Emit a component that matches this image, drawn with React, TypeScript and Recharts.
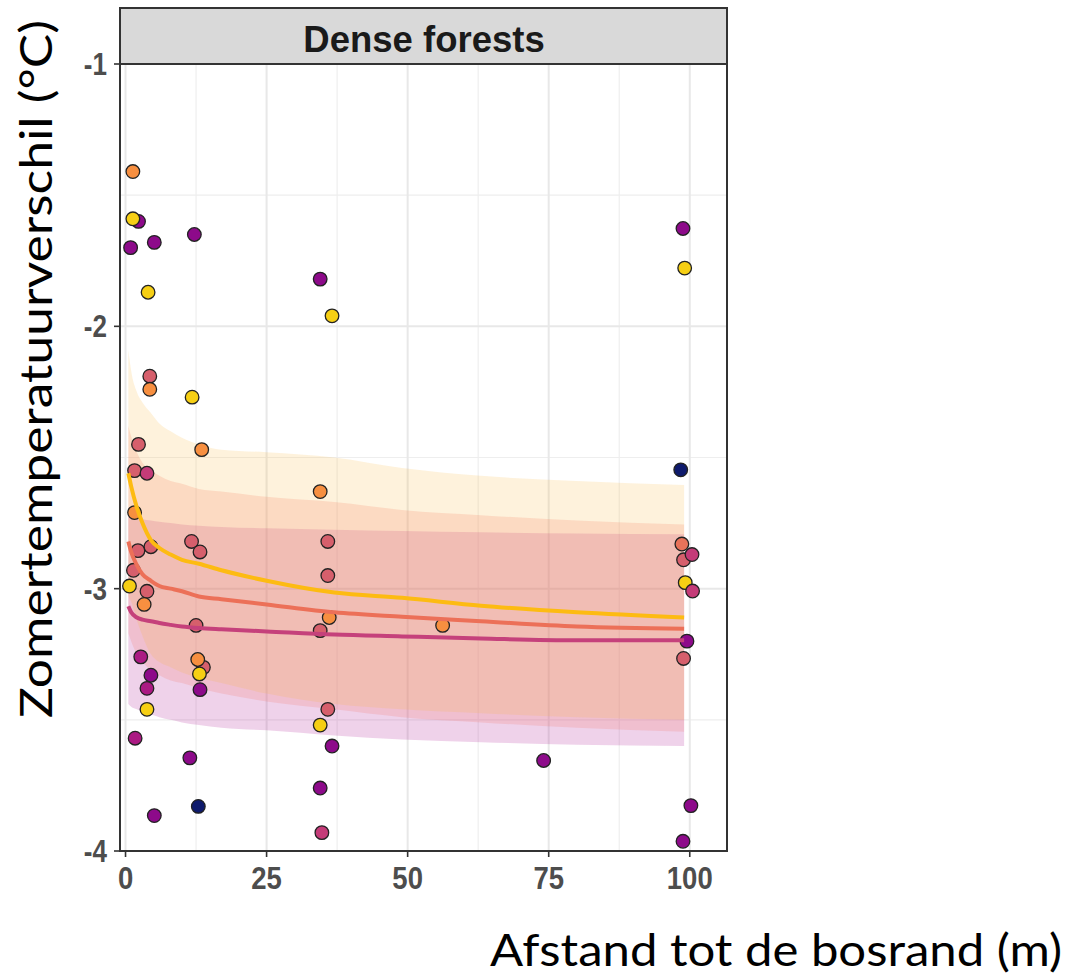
import React from "react";
import { ComposedChart, Area, Line, Scatter, XAxis, YAxis, ReferenceLine } from "recharts";

const W = 1074;
const H = 979;

// axis ticks and grid values
const xTicks = [0, 25, 50, 75, 100];
const yTicks = [-4, -3, -2, -1];
const xMinor = [12.5, 37.5, 62.5, 87.5];
const yMinor = [-3.5, -2.5, -1.5];
const X_DOMAIN: [number, number] = [-0.98, 106.6];
const Y_DOMAIN: [number, number] = [-4, -1];

// fitted curves
const fitX = [0.5, 1, 2, 3, 4.5, 6, 8, 10, 13, 17, 25, 37, 49, 63, 80, 99];
const fitYellow = [-2.56, -2.61, -2.69, -2.75, -2.815, -2.845, -2.87, -2.89, -2.905, -2.93, -2.97, -3.015, -3.035, -3.065, -3.09, -3.11];
const fitSalmon = [-2.82, -2.86, -2.91, -2.945, -2.97, -2.99, -3.0, -3.01, -3.03, -3.04, -3.06, -3.09, -3.107, -3.124, -3.144, -3.153];
const fitMagenta = [-3.067, -3.09, -3.11, -3.118, -3.124, -3.131, -3.138, -3.144, -3.15, -3.155, -3.163, -3.175, -3.182, -3.19, -3.197, -3.197];

// confidence ribbons
const yellowHi = [-2.09, -2.17, -2.25, -2.29, -2.33, -2.37, -2.40, -2.425, -2.45, -2.47, -2.48, -2.50, -2.54, -2.57, -2.59, -2.605];
const yellowLo = [-3.03, -3.05, -3.12, -3.18, -3.25, -3.28, -3.30, -3.32, -3.34, -3.36, -3.40, -3.44, -3.46, -3.475, -3.49, -3.50];
const salmonHi = [-2.38, -2.42, -2.48, -2.52, -2.55, -2.57, -2.59, -2.60, -2.62, -2.63, -2.65, -2.67, -2.70, -2.72, -2.74, -2.755];
const salmonLo = [-3.17, -3.20, -3.25, -3.28, -3.31, -3.33, -3.35, -3.36, -3.38, -3.40, -3.43, -3.46, -3.49, -3.51, -3.53, -3.545];
const magentaHi = [-2.72, -2.725, -2.73, -2.735, -2.74, -2.745, -2.75, -2.755, -2.76, -2.765, -2.77, -2.775, -2.78, -2.785, -2.79, -2.793];
const magentaLo = [-3.44, -3.45, -3.46, -3.47, -3.48, -3.49, -3.50, -3.51, -3.52, -3.53, -3.54, -3.56, -3.575, -3.585, -3.595, -3.60];

// observed points
const ptX = [1.3, 2.3, 1.3, 0.9, 5.1, 12.2, 4.0, 4.3, 4.3, 11.8, 2.3, 13.5, 1.6, 3.8, 1.6, 11.7, 13.2, 2.2, 4.5, 1.4, 0.7, 3.8, 3.3, 12.5, 2.7, 13.8, 12.8, 13.1, 4.5, 3.8, 13.2, 3.8, 1.7, 11.4, 12.9, 5.1,
  34.5, 36.6, 34.5, 35.85, 35.85, 34.5, 36.1, 56.2, 35.85, 34.5, 36.6, 34.5, 34.8, 74.1,
  98.8, 99.1, 98.4, 98.6, 98.9, 100.4, 99.2, 100.5, 99.5, 98.9, 100.2, 98.8];
const ptY = [-1.41, -1.60, -1.59, -1.70, -1.68, -1.65, -1.87, -2.19, -2.24, -2.27, -2.45, -2.47, -2.55, -2.56, -2.71, -2.82, -2.86, -2.855, -2.84, -2.93, -2.99, -3.01, -3.06, -3.14, -3.26, -3.30, -3.27, -3.325, -3.33, -3.38, -3.385, -3.46, -3.57, -3.645, -3.83, -3.865,
  -1.82, -1.96, -2.63, -2.82, -2.95, -3.16, -3.11, -3.14, -3.46, -3.52, -3.60, -3.76, -3.93, -3.655,
  -1.627, -1.778, -2.547, -2.83, -2.89, -2.87, -2.977, -3.009, -3.20, -3.266, -3.827, -3.963];
const ptGroup = ["orange", "purple", "yellow", "purple", "purple", "purple", "yellow", "pinkred", "orange", "yellow", "pinkred", "orange", "pinkred", "rose", "orange", "pinkred", "pinkred", "pinkred", "pinkred", "pinkred", "yellow", "pinkred", "orange", "pinkred", "magenta", "pinkred", "orange", "yellow", "purple", "magenta", "purple", "yellow", "magenta", "purple", "navy", "purple",
  "purple", "yellow", "orange", "pinkred", "pinkred", "pinkred", "orange", "orange", "pinkred", "yellow", "purple", "purple", "rose", "purple",
  "purple", "yellow", "navy", "salmon", "pinkred", "rose", "yellow", "rose", "purple", "pinkred", "purple", "purple"];

const POINT_COLORS: Record<string, string> = {
  navy: "#0e1a6c",
  purple: "#8d0a8a",
  magenta: "#ab1a83",
  rose: "#c43b78",
  pinkred: "#d65f6c",
  salmon: "#e8735a",
  orange: "#f78f40",
  yellow: "#f6cf14",
};

const fitTable = fitX.map((x, i) => ({
  x,
  yellow: fitYellow[i],
  salmon: fitSalmon[i],
  magenta: fitMagenta[i],
  yLo: yellowLo[i],
  yHi: yellowHi[i],
  sLo: salmonLo[i],
  sHi: salmonHi[i],
  mLo: magentaLo[i],
  mHi: magentaHi[i],
}));

const points = ptX.map((x, i) => ({ x, y: ptY[i], g: ptGroup[i] }));

const FONT_AXIS = "'Liberation Sans', Arial, sans-serif";
const FONT_TITLE = "Lato, 'Open Sans', sans-serif";

const XTick = (props: any) => {
  const { x, y, payload } = props;
  return (
    <text
      transform={`translate(${x},${y + 30}) scale(0.86,1)`}
      textAnchor="middle"
      fontFamily={FONT_AXIS}
      fontWeight="bold"
      fontSize={32}
      fill="#4d4d4d"
    >
      {payload.value}
    </text>
  );
};

const YTick = (props: any) => {
  const { x, y, payload } = props;
  return (
    <text
      transform={`translate(${x - 5},${y + 11}) scale(0.84,1)`}
      textAnchor="end"
      fontFamily={FONT_AXIS}
      fontWeight="bold"
      fontSize={31}
      fill="#4d4d4d"
    >
      {payload.value}
    </text>
  );
};

const Dot = (props: any) => {
  const { cx, cy, payload } = props;
  if (cx == null || cy == null) return <g />;
  return <circle cx={cx} cy={cy} r={6.8} fill={POINT_COLORS[payload.g]} stroke="#222" strokeWidth={1.3} />;
};

const MARGIN = { top: 64, right: 347, bottom: 88, left: 0 };

function axes(visible: boolean) {
  return [
    <XAxis
      key="xa"
      dataKey="x"
      type="number"
      domain={X_DOMAIN}
      allowDataOverflow
      ticks={xTicks}
      height={40}
      tickSize={6}
      axisLine={false}
      tickLine={visible ? { stroke: "#333", strokeWidth: 1.6 } : false}
      tick={visible ? <XTick /> : false}
      interval={0}
    />,
    <YAxis
      key="ya"
      type="number"
      domain={Y_DOMAIN}
      allowDataOverflow
      ticks={yTicks}
      width={120}
      tickSize={6}
      axisLine={false}
      tickLine={visible ? { stroke: "#333", strokeWidth: 1.6 } : false}
      tick={visible ? <YTick /> : false}
      interval={0}
    />,
  ];
}

const layerStyle: React.CSSProperties = { position: "absolute", left: 0, top: 0, width: W, height: H };

export default function App() {
  return (
    <div style={{ position: "absolute", left: 0, top: 0, width: W, height: H, background: "#fff", overflow: "hidden" }}>
      {/* layer 1: grid + axes */}
      <div style={layerStyle}>
        <ComposedChart width={W} height={H} margin={MARGIN} data={fitTable}>
          {axes(true)}
          {xMinor.map((v) => (
            <ReferenceLine key={"xm" + v} x={v} stroke="#eeeeee" strokeWidth={1.2} />
          ))}
          {yMinor.map((v) => (
            <ReferenceLine key={"ym" + v} y={v} stroke="#eeeeee" strokeWidth={1.2} />
          ))}
          {xTicks.map((v) => (
            <ReferenceLine key={"xM" + v} x={v} stroke="#e8e8e8" strokeWidth={2} />
          ))}
          {yTicks.map((v) => (
            <ReferenceLine key={"yM" + v} y={v} stroke="#e8e8e8" strokeWidth={2} />
          ))}
        </ComposedChart>
      </div>
      {/* layer 2: ribbons */}
      <div style={layerStyle}>
        <ComposedChart width={W} height={H} margin={MARGIN} data={fitTable}>
          {axes(false)}
          <Area dataKey={(d: any) => [d.mLo, d.mHi]} type="monotone" stroke="none" fill="#af1e96" fillOpacity={0.2} isAnimationActive={false} />
          <Area dataKey={(d: any) => [d.sLo, d.sHi]} type="monotone" stroke="none" fill="#f47c71" fillOpacity={0.22} isAnimationActive={false} />
          <Area dataKey={(d: any) => [d.yLo, d.yHi]} type="monotone" stroke="none" fill="#f8b93c" fillOpacity={0.18} isAnimationActive={false} />
        </ComposedChart>
      </div>
      {/* layer 3: points */}
      <div style={layerStyle}>
        <ComposedChart width={W} height={H} margin={MARGIN}>
          {axes(false)}
          <Scatter data={points} dataKey="y" shape={<Dot />} isAnimationActive={false} />
        </ComposedChart>
      </div>
      {/* layer 4: fitted lines */}
      <div style={layerStyle}>
        <ComposedChart width={W} height={H} margin={MARGIN} data={fitTable}>
          {axes(false)}
          <Line dataKey="magenta" type="monotone" stroke="#c5417b" strokeWidth={4} dot={false} isAnimationActive={false} />
          <Line dataKey="salmon" type="monotone" stroke="#ec7058" strokeWidth={4} dot={false} isAnimationActive={false} />
          <Line dataKey="yellow" type="monotone" stroke="#fdbb12" strokeWidth={4} dot={false} isAnimationActive={false} />
        </ComposedChart>
      </div>
      {/* overlay: panel frame, strip and titles */}
      <svg width={W} height={H} style={{ position: "absolute", left: 0, top: 0 }}>
        <rect x={120} y={8} width={607} height={56} fill="#d9d9d9" stroke="#333" strokeWidth={2} />
        <text x={424} y={52} textAnchor="middle" fontFamily={FONT_AXIS} fontWeight="bold" fontSize={36.5} fill="#1a1a1a">
          Dense forests
        </text>
        <rect x={120} y={64} width={607} height={787} fill="none" stroke="#333" strokeWidth={2} />
        <text
          transform="translate(52,369) rotate(-90)"
          textAnchor="middle"
          fontFamily={FONT_TITLE}
          fontSize={44}
          fill="#000"
          textLength={698}
          lengthAdjust="spacingAndGlyphs"
        >
          Zomertemperatuurverschil (°C)
        </text>
        <text x={490} y={966} fontFamily={FONT_TITLE} fontSize={44} fill="#000" textLength={572} lengthAdjust="spacingAndGlyphs">
          Afstand tot de bosrand (m)
        </text>
      </svg>
    </div>
  );
}
